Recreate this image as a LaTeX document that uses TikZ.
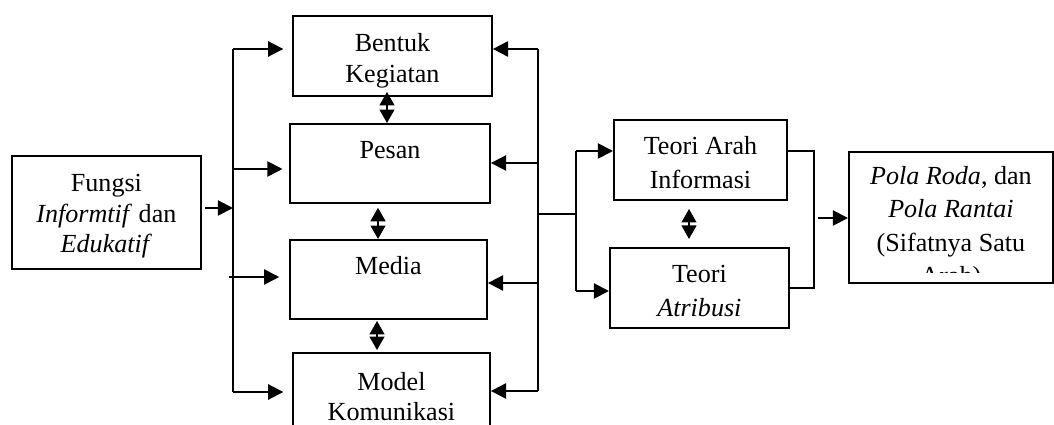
\documentclass[tikz,border=0pt]{standalone}
\usepackage{fontspec}
\setmainfont{Liberation Serif}
\usetikzlibrary{arrows.meta}

\begin{document}
\begin{tikzpicture}[x=0.46pt, y=-0.46pt,
    box/.style={draw, line width=0.9pt, inner sep=0pt, anchor=north west},
    txt/.style={anchor=base, align=flush center, inner sep=0pt, font=\fontsize{12}{14}\selectfont},
    wide/.style={font=\fontsize{12}{15.3}\selectfont},
    line/.style={line width=0.9pt},
    arr/.style={line width=0.9pt, -{Triangle[length=7pt,width=7pt]}},
    dbl/.style={line width=0.9pt, {Triangle[length=6.2pt,width=6.8pt]}-{Triangle[length=6.2pt,width=6.8pt]}}]
    \useasboundingbox (0,0) rectangle (1054,425);
    \node[box, minimum width=86.9pt, minimum height=52pt] (fungsi) at (11,155) {};
    \node[box, minimum width=91.5pt, minimum height=36.8pt] (bentuk) at (292,15) {};
    \node[box, minimum width=92pt, minimum height=36.3pt] (pesan) at (289,123) {};
    \node[box, minimum width=90.6pt, minimum height=36.3pt] (media) at (289,239) {};
    \node[box, minimum width=90.6pt, minimum height=41.4pt] (model) at (292,352) {};
    \node[box, minimum width=79.6pt, minimum height=36.8pt] (arah) at (613,119) {};
    \node[box, minimum width=82.3pt, minimum height=36.8pt] (atribusi) at (609,247) {};
    \node[box, minimum width=93.8pt, minimum height=60.3pt] (pola) at (848,151) {};
    \node[txt, text width=84pt] (fungsiT) at ([yshift=-17pt]fungsi.north) {Fungsi\\ \textit{Informtif} dan\\ \textit{Edukatif}};
    \begin{scope}
    \clip (bentuk.north west) rectangle ([yshift=3.7pt]bentuk.south east);
    \node[txt, text width=88pt] (bentukT) at ([yshift=-17pt]bentuk.north) {Bentuk\\ Kegiatan};
    \end{scope}
    \node[txt, text width=88pt] (pesanT) at ([yshift=-16.5pt]pesan.north) {Pesan};
    \node[txt, text width=88pt] (mediaT) at ([yshift=-16.5pt]media.north) {Media};
    \node[txt, text width=88pt] (modelT) at ([yshift=-17.5pt]model.north) {Model\\ Komunikasi};
    \node[txt, wide, text width=78pt] (arahT) at ([yshift=-16.5pt]arah.north) {Teori Arah\\ Informasi};
    \node[txt, wide, text width=80pt] (atribusiT) at ([yshift=-16.5pt]atribusi.north) {Teori\\ \textit{Atribusi}};
    \begin{scope}
    \clip (pola.north west) rectangle ([yshift=5.2pt]pola.south east);
    \node[txt, wide, text width=92pt] (polaT) at ([yshift=-15.5pt]pola.north) {\textit{Pola Roda}, dan\\ \textit{Pola Rantai}\\ (Sifatnya Satu\\ Arah)};
    \end{scope}
    \coordinate (fin) at (233,208);
    \coordinate (l1) at (233,49);
    \coordinate (l2) at (233,169);
    \coordinate (l3) at (229,277);
    \coordinate (l4) at (233,392);
    \draw[line] (l1) -- (l4);
    \draw[arr, shorten <=1.4pt] (fungsi.east |- fin) -- (fin);
    \draw[arr, shorten >=4pt] (l1) -- (l1 -| bentuk.west);
    \draw[arr, shorten >=3pt] (l2) -- (l2 -| pesan.west);
    \draw[arr, shorten >=4.5pt] (l3) -- (l3 -| media.west);
    \draw[arr, shorten >=4pt] (l4) -- (l4 -| model.west);
    \coordinate (r1) at (538,49);
    \coordinate (r2) at (538,163);
    \coordinate (r3) at (538,283);
    \coordinate (r4) at (538,391);
    \draw[line] (r1) -- (r4);
    \draw[arr] (r1) -- (r1 -| bentuk.east);
    \draw[arr] (r2) -- (r2 -| pesan.east);
    \draw[arr] (r3) -- (r3 -| media.east);
    \draw[arr] (r4) -- (r4 -| model.east);
    \coordinate (bp) at (387,0);
    \coordinate (pm) at (378,0);
    \coordinate (mm) at (377,0);
    \coordinate (aa) at (689,0);
    \draw[dbl, shorten <=-2.3pt] (bentuk.south -| bp) -- (pesan.north -| bp);
    \draw[dbl, shorten <=1.8pt] (pesan.south -| pm) -- (media.north -| pm);
    \draw[dbl, shorten <=0.5pt, shorten >=0.9pt] (media.south -| mm) -- (model.north -| mm);
    \draw[dbl, shorten <=3.7pt, shorten >=3.7pt] (arah.south -| aa) -- (atribusi.north -| aa);
    \coordinate (rm) at (538,214);
    \coordinate (t1) at (576,151);
    \coordinate (t2) at (576,291);
    \draw[line] (rm) -- (rm -| t1);
    \draw[line] (t1) -- (t2);
    \draw[arr] (t1) -- (t1 -| arah.west);
    \draw[arr] (t2) -- (t2 -| atribusi.west);
    \coordinate (k1) at (814,151);
    \coordinate (k2) at (814,288);
    \coordinate (k3) at (818,218);
    \draw[line] (k1 -| arah.east) -- (k1) -- (k2) -- (k2 -| atribusi.east);
    \draw[arr] (k3) -- (k3 -| pola.west);
\end{tikzpicture}
\end{document}
